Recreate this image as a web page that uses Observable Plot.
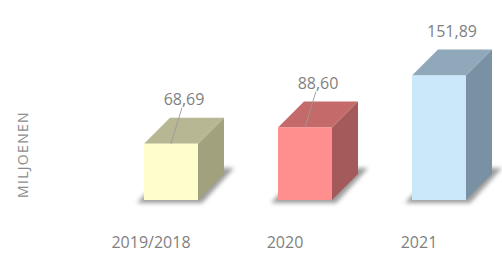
<!DOCTYPE html>
<html><head><meta charset="utf-8">
<script src="https://cdn.jsdelivr.net/npm/d3@7"></script>
<script src="https://cdn.jsdelivr.net/npm/@observablehq/plot@0.6"></script>
<style>html,body{margin:0;padding:0;background:#fff;} svg{display:block}</style>
</head><body><div id="chart"></div>
<script>
const categories = ["2019/2018", "2020", "2021"];
const values = [68.69, 88.60, 151.89];
const valueLabels = ["68,69", "88,60", "151,89"];
const leaderCategories = ["2019/2018", "2020"];
const axisTitle = "MILJOENEN";

const frontColors = ["#fefecd", "#ff8f8f", "#cae8fa"];
const topColors = ["#b7b794", "#c56a6a", "#8fa9bb"];
const sideColors = ["#a1a17d", "#a45a5a", "#7991a3"];
const DEPTH = 26;

const data = categories.map((c, i) => ({cat: c, value: values[i], label: valueLabels[i], i}));

function box3d(index, scales, vals, dims, context, next) {
  const x = scales.x, y = scales.y;
  const bw = typeof x.bandwidth === "function" ? x.bandwidth() : scales.scales.x.bandwidth;
  const D = DEPTH;
  const g = d3.create("svg:g");
  g.append("defs").append("filter").attr("id", "shBlur")
    .attr("x", "-30%").attr("y", "-30%").attr("width", "160%").attr("height", "160%")
    .append("feGaussianBlur").attr("stdDeviation", 2);
  for (const i of index) {
    const d = data[i];
    const x0 = x(d.cat), x1 = x0 + bw, yb = y(0);
    const pts = [[x0 - 7, yb + 3], [x1 + 4, yb + 3], [x1 + D + 10, yb - D - 6], [x0 + D, yb - D - 6]];
    g.append("polygon").attr("points", pts.map(p => p.join(",")).join(" "))
      .attr("fill", "#8a8a8a").attr("opacity", 0.85).attr("filter", "url(#shBlur)");
  }
  for (const i of index) {
    const d = data[i];
    const x0 = x(d.cat), x1 = x0 + bw, yb = y(0), yt = y(d.value);
    g.append("polygon")
      .attr("points", [[x1, yt], [x1 + D, yt - D], [x1 + D, yb - D], [x1, yb]].map(p => p.join(",")).join(" "))
      .attr("fill", sideColors[i]);
    g.append("polygon")
      .attr("points", [[x0, yt], [x0 + D, yt - D], [x1 + D, yt - D], [x1, yt]].map(p => p.join(",")).join(" "))
      .attr("fill", topColors[i]);
  }
  g.append(() => next(index, scales, vals, dims, context));
  for (const i of index) {
    const d = data[i];
    if (!leaderCategories.includes(d.cat)) continue;
    const xc = x(d.cat) + bw / 2, yt = y(d.value);
    g.append("line").attr("x1", xc + 11).attr("y1", yt - 36).attr("x2", xc).attr("y2", yt)
      .attr("stroke", "#9a9a9a").attr("stroke-width", 0.9);
  }
  return g.node();
}

const plot = Plot.plot({
  width: 502,
  height: 255,
  marginLeft: 144,
  marginRight: 36.4,
  marginTop: 0,
  marginBottom: 55,
  x: {domain: categories, paddingInner: 0.6, paddingOuter: 0},
  y: {domain: [0, 244], axis: null},
  color: {domain: categories, range: frontColors},
  style: {fontFamily: "'Open Sans', sans-serif", fontSize: "16px", color: "#7f7f7f", background: "white", overflow: "visible"},
  marks: [
    Plot.barY(data, {x: "cat", y: "value", fill: "cat", render: box3d}),
    Plot.text(data, {x: "cat", y: "value", text: "label", dx: 12.5, dy: -44, fontSize: 16, fill: "#7f7f7f"}),
    Plot.axisX({tickSize: 0, tickPadding: 3, dy: 33.5, dx: -20.5, fontSize: 16, label: null}),
    Plot.text([axisTitle], {
      frameAnchor: "left", textAnchor: "middle", lineAnchor: "middle", rotate: -90,
      dx: 23 - 144, dy: 54, fontSize: 14, fill: "#8c8c8c",
      render: (i, s, v, d, c, next) => { const el = next(i, s, v, d, c); el.setAttribute("letter-spacing", "1.3"); return el; }
    })
  ]
});
document.getElementById("chart").appendChild(plot);
</script>
</body></html>
